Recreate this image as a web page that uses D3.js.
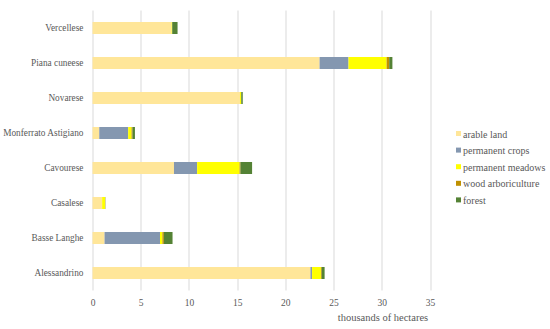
<!DOCTYPE html>
<html>
<head>
<meta charset="utf-8">
<script src="https://cdn.jsdelivr.net/npm/d3@7"></script>
<style>
  body { margin: 0; background: #fff; }
  text { font-family: "Liberation Serif", "DejaVu Serif", serif; fill: #595959; }
</style>
</head>
<body>
<script>
// Define data
const regions = ["Vercellese", "Piana cuneese", "Novarese", "Monferrato Astigiano",
                 "Cavourese", "Casalese", "Basse Langhe", "Alessandrino"];
const series = ["arable land", "permanent crops", "permanent meadows", "wood arboriculture", "forest"];
const colors = ["#FFE699", "#8497B0", "#FFFF00", "#BF9000", "#548235"];

const arable    = [8.2, 23.55, 15.3, 0.7, 8.45, 1.0, 1.25, 22.6];
const permCrops = [0,   3.0,   0,    3.0, 2.4,  0,   5.75, 0.17];
const meadows   = [0.05, 3.95, 0.1,  0.35, 4.4, 0.3, 0.25, 0.92];
const wood      = [0.02, 0.27, 0.03, 0.1, 0.1,  0.02, 0.15, 0.08];
const forest    = [0.55, 0.33, 0.15, 0.25, 1.2, 0.02, 0.9, 0.3];
const ticks = [0, 5, 10, 15, 20, 25, 30, 35];

const data = regions.map((r, i) => ({
  region: r,
  "arable land": arable[i],
  "permanent crops": permCrops[i],
  "permanent meadows": meadows[i],
  "wood arboriculture": wood[i],
  "forest": forest[i]
}));

// Dimensions
const W = 550, H = 329;
const margin = {top: 10.5, left: 92.5};
const width = 337.5, height = 280;

const svg = d3.select("body").append("svg")
    .attr("width", W)
    .attr("height", H);

const g = svg.append("g")
    .attr("transform", "translate(" + margin.left + "," + margin.top + ")");

// Scales
const x = d3.scaleLinear().domain([0, 35]).range([0, width]);
const y = d3.scaleBand().domain(regions).range([0, height]).paddingInner(0.657).paddingOuter(0.3285);
const color = d3.scaleOrdinal().domain(series).range(colors);

// Gridlines
g.selectAll(".grid")
    .data(ticks)
    .enter().append("line")
      .attr("x1", d => Math.round(x(d)) + 0.5)
      .attr("x2", d => Math.round(x(d)) + 0.5)
      .attr("y1", 0)
      .attr("y2", height)
      .attr("stroke", "#d9d9d9")
      .attr("stroke-width", 1);

// X axis labels
const xAxis = g.append("g")
    .attr("transform", "translate(0," + height + ")")
    .call(d3.axisBottom(x).tickValues(ticks).tickSize(0).tickPadding(9));
xAxis.select(".domain").remove();
xAxis.selectAll("text")
    .style("font-family", "Liberation Serif, serif")
    .style("font-size", "9.5px")
    .attr("fill", "#595959");

// Y axis labels
const yAxis = g.append("g")
    .call(d3.axisLeft(y).tickSize(0).tickPadding(9));
yAxis.select(".domain").remove();
yAxis.selectAll("text")
    .style("font-family", "Liberation Serif, serif")
    .style("font-size", "9.3px")
    .attr("fill", "#595959");

// Stacked bars
const stacked = d3.stack().keys(series)(data);
g.selectAll(".layer")
    .data(stacked)
    .enter().append("g")
      .attr("fill", d => color(d.key))
    .selectAll("rect")
    .data(d => d)
    .enter().append("rect")
      .attr("x", d => x(d[0]))
      .attr("y", d => y(d.data.region))
      .attr("width", d => x(d[1]) - x(d[0]))
      .attr("height", y.bandwidth());

// Axis title
svg.append("text")
    .attr("x", 383)
    .attr("y", 321)
    .style("text-anchor", "middle")
    .style("font-size", "10.5px")
    .text("thousands of hectares");

// Legend
const legend = svg.append("g").attr("transform", "translate(456,134)");
const item = legend.selectAll(".item")
    .data(series)
    .enter().append("g")
      .attr("transform", (d, i) => "translate(0," + (i * 16.6) + ")");
item.append("rect")
    .attr("x", 0).attr("y", -3)
    .attr("width", 5).attr("height", 5)
    .attr("fill", d => color(d));
item.append("text")
    .attr("x", 7)
    .attr("y", 0)
    .attr("dy", "0.35em")
    .style("font-size", "10px")
    .text(d => d);
</script>
</body>
</html>
